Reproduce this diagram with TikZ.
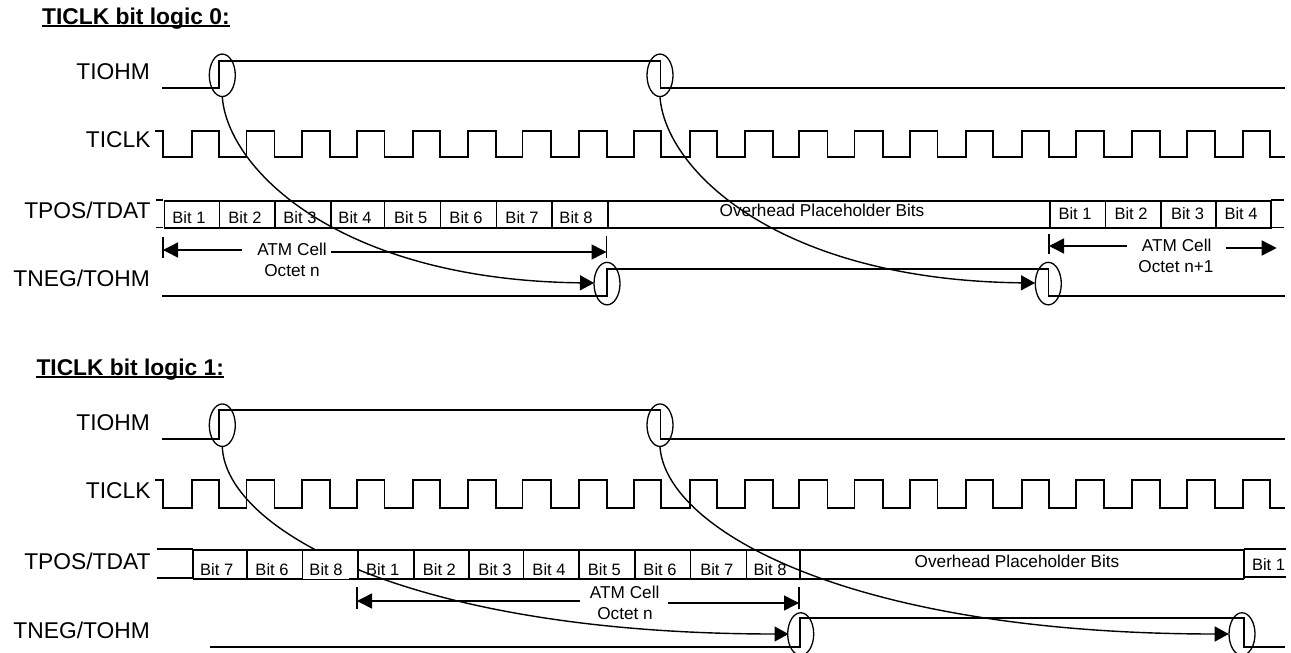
\documentclass[tikz,border=0pt]{standalone}
\usepackage{fontspec}
\setmainfont{Liberation Sans}
\usetikzlibrary{arrows.meta,shapes.geometric}
\tikzset{
  sig/.style={line width=1.6pt,line cap=rect,line join=miter},
  frame/.style={line width=1.7pt},
  sep/.style={line width=1.6pt},
  oval/.style={draw,ellipse,line width=1.3pt,inner sep=0pt,minimum width=26pt,minimum height=42.5pt},
  curved/.style={line width=1.4pt,-{Triangle[length=14pt,width=15pt]}},
  dim/.style={line width=1.5pt,-{Triangle[length=15pt,width=15pt]}},
  bar/.style={line width=1.3pt},
  small/.style={inner sep=0pt,text height=11.8pt,text depth=0pt,font=\fontsize{16.5}{18}\selectfont},
  wide/.style={inner sep=0pt,text height=12.2pt,text depth=0pt,font=\fontsize{17.2}{18}\selectfont},
  siglabel/.style={inner sep=0pt,anchor=east,text height=16.3pt,text depth=0pt,font=\fontsize{22.8}{24}\selectfont},
  heading/.style={inner sep=0pt,anchor=west,text height=16.3pt,text depth=0pt,font=\fontsize{22.8}{24}\selectfont\bfseries},
  uline/.style={line width=1.6pt}
}
\newcommand{\clockwave}[2]{%
  \draw[sig] (156,#1) -- (163,#1) -- (163,#2) -- (192,#2) -- (192,#1) -- (219,#1);
  \foreach \dn/\up/\nx in {219/246.5/274.5,274.5/302/330,330/357/384.5,384.5/413/440,440/468/496,496/522.5/551,551/579/607,607/634/661,661/690/717,717/745/773,773/799/827.5,827.5/854.5/883,883/910/937.5,937.5/966/993,993/1022/1049,1049/1076/1104,1104/1132/1160,1160/1187/1215,1215/1243/1270}
    \draw[sig] (\dn,#1) -- (\dn,#2) -- (\up,#2) -- (\up,#1) -- (\nx,#1);
  \draw[sig] (1270,#1) -- (1270,#2) -- (1284,#2);
}
\begin{document}
\begin{tikzpicture}[x=1pt,y=-1pt]
\useasboundingbox (0,0) rectangle (1291,653);
\fill[white] (0,0) rectangle (1291,653);

%% ---------- top: logic 0
\node[heading] (title0) at (42,16) {TICLK bit logic 0:};
\draw[uline] ([yshift=-1.8pt]title0.south west) -- ([yshift=-1.8pt]title0.south east);
\node[siglabel] (l0a) at (150,71) {TIOHM};
\node[siglabel] (l0b) at (150.7,139.3) {TICLK};
\node[siglabel] (l0c) at (150.7,210) {TPOS/TDAT};
\node[siglabel] (l0d) at (150,278.5) {TNEG/TOHM};

\draw[sig] (162.3,88) -- (219,88) -- (219,61) -- (660.5,61) -- (660.5,88) -- (1284,88);
\clockwave{131}{157}
\draw[sig] (162.3,296) -- (607,296) -- (607,269) -- (1048.5,269) -- (1048.5,296) -- (1284,296);

% bus
\draw[frame] (164.5,201) rectangle (1271,228);
\draw[sep] (155.5,200) -- (163,200) (155.5,227.3) -- (163,227.3);
\draw[sep] (1271,200) -- (1284,200) (1271,227.5) -- (1284,227.5) (1271,200) -- (1271,228);
\foreach \x in {219.3,275,330.7,384.3,440.6,496.6,551.8,607.7,1050,1105.5,1161,1216}
  \draw[sep] (\x,201) -- (\x,228);
\foreach \x/\n [count=\i] in {189/1,245/2,300/3,355/4,410.7/5,466/6,522/7,576/8}
  \node[small] (t0b\i) at (\x,218) {Bit \n};
\node[wide] (t0o) at (822,210) {Overhead Placeholder Bits};
\foreach \x/\n [count=\i] in {1075/1,1131/2,1187.5/3,1241/4}
  \node[small] (t0c\i) at (\x,214) {Bit \n};

% ovals
\node[oval] (e01) at (222.3,75.3) {};
\node[oval] (e02) at (660,75.3) {};
\node[oval] (e03) at (607,283.6) {};
\node[oval] (e04) at (1048.3,283.6) {};
\coordinate (e03t) at (594,283);
\coordinate (e04t) at (1035,283);

% dimension arrows
\node[wide] (t0atm) at (292,249) {ATM Cell};
\node[wide] (t0oct) at (292,270) {Octet n};
\coordinate (d01) at (241.7,250); \coordinate (d01e) at (163,250);
\coordinate (d02) at (331,252); \coordinate (d02e) at (606.5,252);
\draw[dim] (d01) -- (d01e);
\draw[dim] (d02) -- (d02e);
\draw[bar] (163,236.7) -- (163,258);
\draw[bar] (606.5,236) -- (606.5,258);
\node[wide] (t0atm2) at (1176.7,245) {ATM Cell};
\node[wide] (t0oct2) at (1176,266.7) {Octet n+1};
\coordinate (d03) at (1126.7,246); \coordinate (d03e) at (1049,246);
\coordinate (d04) at (1225.7,248); \coordinate (d04e) at (1276.7,248);
\draw[dim] (d03) -- (d03e);
\draw[dim] (d04) -- (d04e);
\draw[bar] (1049,234) -- (1049,254);

% curves
\draw[curved] (e01.south) .. controls (228,170) and (340,280) .. (e03t);
\draw[curved] (e02.south) .. controls (665.5,170) and (777.5,280) .. (e04t);

%% ---------- bottom: logic 1
\node[heading] (title1) at (36.3,367) {TICLK bit logic 1:};
\draw[uline] ([yshift=-1.8pt]title1.south west) -- ([yshift=-1.8pt]title1.south east);
\node[siglabel] (l1a) at (150,422) {TIOHM};
\node[siglabel] (l1b) at (150.7,490) {TICLK};
\node[siglabel] (l1c) at (150.7,561) {TPOS/TDAT};
\node[siglabel] (l1d) at (150,630) {TNEG/TOHM};

\draw[sig] (162.3,439) -- (219,439) -- (219,410) -- (660.5,410) -- (660.5,439) -- (1284,439);
\clockwave{480}{508}
\draw[sig] (210.7,647) -- (800,647) -- (800,618) -- (1244,618) -- (1244,647) -- (1284,647);

\node[oval] (e11) at (222.3,425.2) {};
\node[oval] (e12) at (660,425.2) {};
\node[oval] (e13) at (800.7,634) {};
\node[oval] (e14) at (1242,634) {};
\coordinate (e13t) at (788.5,634);
\coordinate (e14t) at (1228.7,634);

% first curve, hidden behind the Bit 8 cell
\draw[curved] (e11.south) .. controls (226,530) and (410,634) .. (e13t);
\fill[white] (303,551) rectangle (357,578);

% bus
\draw[frame] (192.7,550) -- (1244,550);
\draw[frame] (192.7,579) -- (302,579);
\draw[line width=0.5pt] (302,579) -- (349,579);
\draw[frame] (349,579) -- (1244,579);
\draw[sep] (156.7,549) -- (192.7,549) (156.7,578) -- (192.7,578);
\draw[sep] (1244,549) -- (1286,549) (1244,577) -- (1286,577);
\foreach \x in {192.7,246.7,302.3,357.7,413.7,469,523.6,579,634.7,690.6,746.6,800,1244}
  \draw[sep] (\x,549.5) -- (\x,579);
\foreach \x/\n [count=\i] in {216.7/7,272/6,326/8,382.7/1,439.4/2,495/3,549/4,604.4/5,660/6,716.8/7,770/8}
  \node[small] (t1b\i) at (\x,569.2) {Bit \n};
\node[wide] (t1o) at (1017,561.3) {Overhead Placeholder Bits};
\node[small] (t1c) at (1268.5,565) {Bit 1};

% dimension arrows
\node[wide] (t1atm) at (624.7,592.7) {ATM Cell};
\node[wide] (t1oct) at (625,613.3) {Octet n};
\coordinate (d11) at (580,601); \coordinate (d11e) at (357,601);
\coordinate (d12) at (668,603); \coordinate (d12e) at (799,603);
\draw[dim] (d11) -- (d11e);
\draw[dim] (d12) -- (d12e);
\draw[bar] (357,587.3) -- (357,609);
\draw[bar] (799,587.3) -- (799,609.3);

% second curve
\draw[curved] (e12.south) .. controls (666,530) and (850,634) .. (e14t);
\end{tikzpicture}
\end{document}
